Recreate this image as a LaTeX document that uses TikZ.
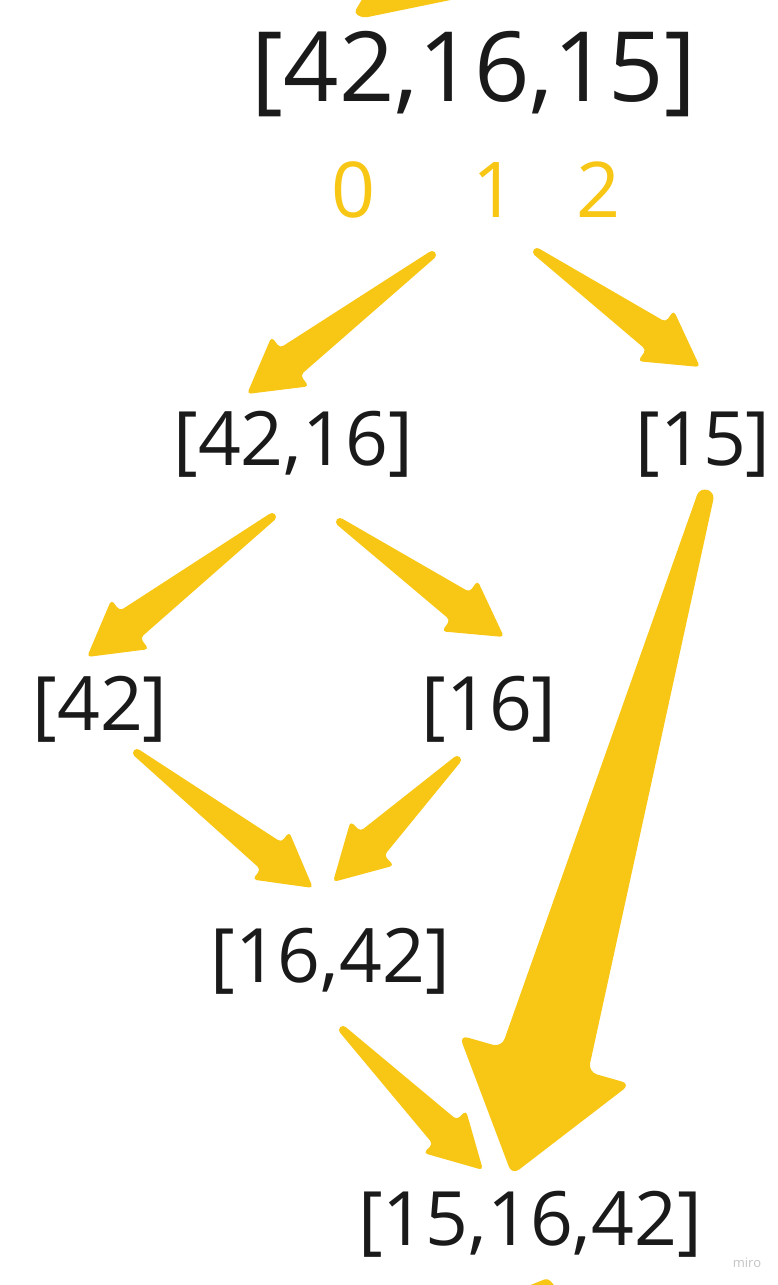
\documentclass[tikz,border=0pt]{standalone}
\usepackage{fontspec}
\setmainfont{Open Sans}
\usetikzlibrary{calc}
\definecolor{miroyellow}{HTML}{F8C715}
\definecolor{inkc}{HTML}{1A1A1A}
\definecolor{wmark}{HTML}{C4C4C4}
\tikzset{
  arrowfill/.style={fill=miroyellow},
  lbl/.style={inner sep=0pt, anchor=base, text=inkc, font=\fontsize{75}{75}\selectfont},
  biglbl/.style={lbl, font=\fontsize{97}{97}\selectfont},
  idx/.style={inner sep=0pt, anchor=base, text=miroyellow, font=\fontsize{77}{77}\selectfont},
}
% #1 tail, #2 tip, #3 tail half-width, #4 shaft half-width at head, #5 head half-width, #6 head length, #7 corner radius
\newcommand{\brusharrow}[7]{%
  \coordinate (bhB) at ($(#2)!#6!(#1)$);
  \fill[arrowfill]
    ($(#1)!#3!90:(#2)$) [rounded corners=#7] -- ($(bhB)!#4!90:(#2)$) -- ($(bhB)!#5!90:(#2)$) -- (#2)
    -- ($(bhB)!#5!-90:(#2)$) -- ($(bhB)!#4!-90:(#2)$) [sharp corners] -- ($(#1)!#3!-90:(#2)$) -- cycle;
  \fill[arrowfill] (#1) circle[radius=#3];
}
\begin{document}
\begin{tikzpicture}[x=1pt,y=-1pt]
\useasboundingbox (0,0) rectangle (777,1285);
\fill[white] (0,0) rectangle (777,1285);
\clip (0,0) rectangle (777,1285);

% labels
\node[biglbl] (n0) at (474,101) {[42,16,15]};
\node[idx] (i0) at (354,217) {0};
\node[idx] (i1) at (495,217) {1};
\node[idx] (i2) at (599,217) {2};
\node[lbl] (n1) at (293,465) {[42,16]};
\node[lbl] (n2) at (703,465) {[15]};
\node[lbl] (n3) at (100,730) {[42]};
\node[lbl] (n4) at (489,730) {[16]};
\node[lbl] (n5) at (330,982) {[16,42]};
\node[lbl] (n6) at (530,1245) {[15,16,42]};
\node[inner sep=0pt, anchor=base, text=wmark, font=\fontsize{13}{13}\selectfont] (wm) at (747,1267) {miro};

% arrow end points
\coordinate (aT) at (432,255);  \coordinate (aP) at (247,394);
\coordinate (bT) at (537,252);  \coordinate (bP) at (700,367);
\coordinate (cT) at (272,517);  \coordinate (cP) at (87,657);
\coordinate (dT) at (340,522);  \coordinate (dP) at (504,637);
\coordinate (eT) at (705,498);  \coordinate (eP) at (512,1175);
\coordinate (fT) at (137,753);  \coordinate (fP) at (313,888);
\coordinate (gT) at (457,760);  \coordinate (gP) at (333,882);
\coordinate (hT) at (343,1030); \coordinate (hP) at (483,1170);

\brusharrow{aT}{aP}{4pt}{17pt}{31pt}{54pt}{4pt}
\brusharrow{bT}{bP}{4pt}{17pt}{31pt}{54pt}{4pt}
\brusharrow{cT}{cP}{4pt}{17pt}{31pt}{54pt}{4pt}
\brusharrow{dT}{dP}{4pt}{17pt}{31pt}{54pt}{4pt}
\brusharrow{fT}{fP}{4pt}{17pt}{30pt}{53pt}{4pt}
\brusharrow{gT}{gP}{4pt}{17pt}{31pt}{55pt}{4pt}
\brusharrow{hT}{hP}{4pt}{17pt}{30pt}{54pt}{4pt}
\brusharrow{eT}{eP}{8.5pt}{45pt}{89pt}{120pt}{9pt}

% partial shapes at the edges
\fill[arrowfill, rounded corners=4pt] (364,-4) -- (354,13) -- (363,18) -- (470,-4) -- cycle;
\fill[arrowfill, rounded corners=4pt] (518,1290) -- (548,1278) -- (558,1290) -- cycle;
\end{tikzpicture}
\end{document}
